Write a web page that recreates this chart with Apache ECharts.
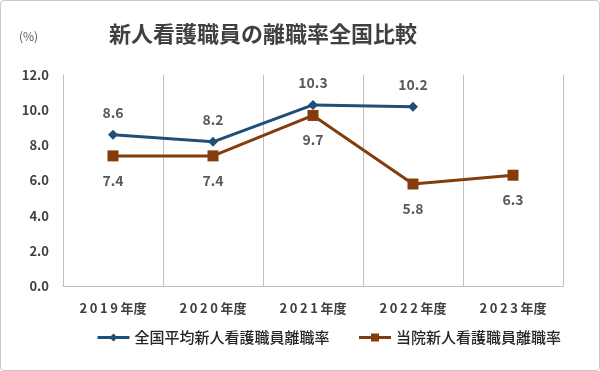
<!DOCTYPE html>
<html><head><meta charset="utf-8">
<script src="https://cdn.jsdelivr.net/npm/echarts@6/dist/echarts.min.js"></script>
<style>html,body{margin:0;padding:0;background:#fff}#c{width:600px;height:371px;box-sizing:border-box;border:1.5px solid #c8c8c8;border-radius:4px}</style>
</head><body><div id="c"></div>
<script>
const categories = ['2019年度','2020年度','2021年度','2022年度','2023年度'];
const nationalName = '全国平均新人看護職員離職率';
const nationalValues = [8.6, 8.2, 10.3, 10.2, null];
const hospitalName = '当院新人看護職員離職率';
const hospitalValues = [7.4, 7.4, 9.7, 5.8, 6.3];
const yTicks = {min: 0, max: 12, interval: 2};

const chart = echarts.init(document.getElementById('c'), null, {renderer: 'canvas'});
const font = '"Noto Sans CJK JP", sans-serif';
chart.setOption({
  animation: false,
  textStyle: {fontFamily: font},
  title: [{
    text: '新人看護職員の離職率全国比較', left: 103, top: 17,
    textStyle: {fontSize: 22, fontWeight: 'bold', color: '#404040', fontFamily: font}
  }, {
    text: '(%)', left: 13, top: 24,
    textStyle: {fontSize: 12, fontWeight: 'normal', color: '#595959', fontFamily: font}
  }],
  grid: {left: 62, right: 36, top: 74, bottom: 84},
  legend: {
    bottom: 20, left: 90, itemGap: 28, itemWidth: 32, itemHeight: 10,
    lineStyle: {width: 3},
    textStyle: {fontSize: 15, color: '#262626', fontWeight: 500, fontFamily: font},
    data: [nationalName, hospitalName]
  },
  xAxis: {
    type: 'category', data: categories, boundaryGap: true,
    axisLine: {lineStyle: {color: '#bfbfbf', width: 1}},
    axisTick: {show: false},
    splitLine: {show: true, lineStyle: {color: '#bfbfbf', width: 1}},
    axisLabel: {margin: 16, fontSize: 13, fontWeight: 'bold', color: '#404040', fontFamily: font,
      formatter: v => v.replace(/(\d)/g, '$1\u2009')}
  },
  yAxis: {
    type: 'value', min: yTicks.min, max: yTicks.max, interval: yTicks.interval,
    axisLine: {show: true, lineStyle: {color: '#bfbfbf', width: 1}},
    axisTick: {show: false},
    splitLine: {show: false},
    axisLabel: {margin: 14, fontSize: 13, fontWeight: 'bold', color: '#404040', fontFamily: font,
      formatter: v => v.toFixed(1)}
  },
  series: [{
    name: nationalName, type: 'line', data: nationalValues,
    symbol: 'diamond', symbolSize: 10, connectNulls: false,
    lineStyle: {color: '#1f4e79', width: 3},
    itemStyle: {color: '#1f4e79'},
    label: {show: true, position: 'top', distance: 10, fontSize: 14, fontWeight: 'bold', color: '#595959',
      formatter: p => p.value.toFixed(1)}
  }, {
    name: hospitalName, type: 'line', data: hospitalValues,
    symbol: 'rect', symbolSize: 11,
    lineStyle: {color: '#843c0c', width: 3},
    itemStyle: {color: '#843c0c'},
    label: {show: true, position: 'bottom', distance: 12, fontSize: 14, fontWeight: 'bold', color: '#595959',
      formatter: p => p.value.toFixed(1)}
  }]
});
</script></body></html>
